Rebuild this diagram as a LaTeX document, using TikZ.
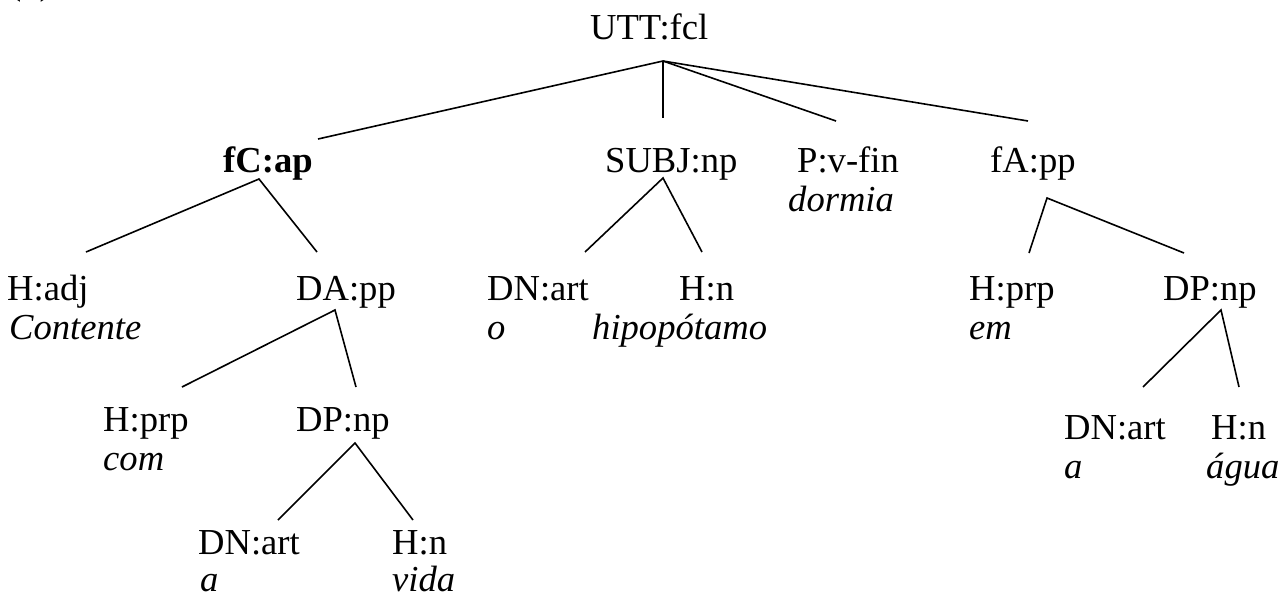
\documentclass[tikz,border=0pt]{standalone}
\usepackage{fontspec}
\setmainfont{Liberation Serif}
\begin{document}
\begin{tikzpicture}[x=1pt,y=-1pt,
  lbl/.style={anchor=base west,inner sep=0pt,font=\fontsize{36.6}{40}\selectfont},
  wrd/.style={lbl,font=\fontsize{36.6}{40}\selectfont\itshape},
  edge/.style={line width=1.6pt,line cap=butt}]
\useasboundingbox (0,0) rectangle (1282,598);
% partly visible example number
\node[lbl] (num) at (9,-6) {(1)};
% labels
\node[lbl] (UTT) at (590,39) {UTT:fcl};
\node[lbl,font=\fontsize{36.6}{40}\selectfont\bfseries] (fC) at (223,172) {fC:ap};
\node[lbl] (SUBJ) at (605,172) {SUBJ:np};
\node[lbl] (PV) at (797,172) {P:v-fin};
\node[wrd] (PVw) at (788,211) {dormia};
\node[lbl] (fA) at (990,172) {fA:pp};
\node[lbl] (Hadj) at (7,300) {H:adj};
\node[wrd] (Hadjw) at (9,339) {Contente};
\node[lbl] (DA) at (296,300) {DA:pp};
\node[lbl] (DNa) at (487,300) {DN:art};
\node[wrd] (DNaw) at (487,339) {o};
\node[lbl] (Hna) at (679,300) {H:n};
\node[wrd] (Hnaw) at (592,339) {hipopótamo};
\node[lbl] (Hprpb) at (969,300) {H:prp};
\node[wrd] (Hprpbw) at (969,339) {em};
\node[lbl] (DPb) at (1163,300) {DP:np};
\node[lbl] (Hprpa) at (103,431) {H:prp};
\node[wrd] (Hprpaw) at (103,470) {com};
\node[lbl] (DPa) at (296,431) {DP:np};
\node[lbl] (DNc) at (198,554) {DN:art};
\node[wrd] (DNcw) at (200,591) {a};
\node[lbl] (Hnc) at (392,554) {H:n};
\node[wrd] (Hncw) at (392,591) {vida};
\node[lbl] (DNb) at (1064,439) {DN:art};
\node[wrd] (DNbw) at (1064,478) {a};
\node[lbl] (Hnb) at (1211,439) {H:n};
\node[wrd] (Hnbw) at (1206,478) {água};
% connector ends: b = apex below a label, t = end above a label
\coordinate (UTTb) at (663,61);
\coordinate (fCt) at (318,139);  \coordinate (fCb) at (259,179);
\coordinate (SUBJt) at (663,118); \coordinate (SUBJb) at (663,178);
\coordinate (PVt) at (836,121);
\coordinate (fAt) at (1028,121); \coordinate (fAb) at (1047,198);
\coordinate (Hadjt) at (86,252);
\coordinate (DAt) at (317,252); \coordinate (DAb) at (335,310);
\coordinate (DNat) at (585,252);
\coordinate (Hnat) at (702,252);
\coordinate (Hprpbt) at (1029,253);
\coordinate (DPbt) at (1184,253); \coordinate (DPbb) at (1221,310);
\coordinate (Hprpat) at (182,387);
\coordinate (DPat) at (356,387); \coordinate (DPab) at (355,443);
\coordinate (DNct) at (278,520);
\coordinate (Hnct) at (413,520);
\coordinate (DNbt) at (1143,387);
\coordinate (Hnbt) at (1239,387);
% connectors
\draw[edge] (UTTb) -- (fCt);
\draw[edge] (UTTb) -- (SUBJt);
\draw[edge] (UTTb) -- (PVt);
\draw[edge] (UTTb) -- (fAt);
\draw[edge] (Hadjt) -- (fCb) -- (DAt);
\draw[edge] (DNat) -- (SUBJb) -- (Hnat);
\draw[edge] (Hprpbt) -- (fAb) -- (DPbt);
\draw[edge] (Hprpat) -- (DAb) -- (DPat);
\draw[edge] (DNbt) -- (DPbb) -- (Hnbt);
\draw[edge] (DNct) -- (DPab) -- (Hnct);
\end{tikzpicture}
\end{document}
